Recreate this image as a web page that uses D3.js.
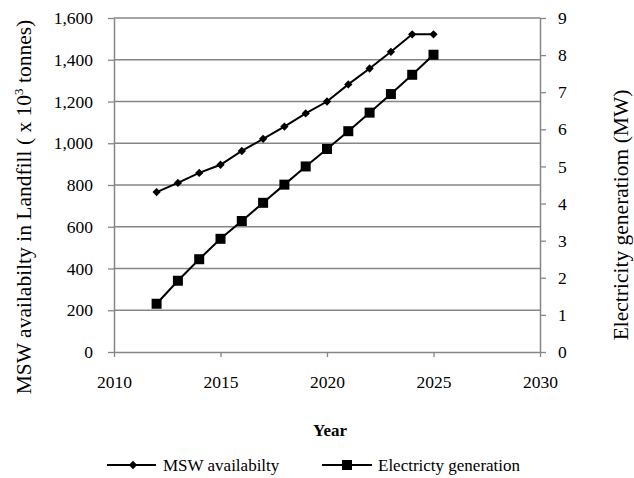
<!DOCTYPE html>
<html>
<head>
<meta charset="utf-8">
<script src="https://cdn.jsdelivr.net/npm/d3@7/dist/d3.min.js"></script>
<style>
  html, body { margin: 0; padding: 0; background: #fff; }
  svg { display: block; font-family: "Liberation Serif", "Times New Roman", serif; }
</style>
</head>
<body>
<svg id="chart" width="634" height="478"></svg>
<script>
// Years of the projection
const years = [2012, 2013, 2014, 2015, 2016, 2017, 2018, 2019, 2020, 2021, 2022, 2023, 2024, 2025];
// MSW availability in landfill (x 10^3 tonnes)
const mswValues = [766, 810, 858, 897, 963, 1021, 1080, 1143, 1200, 1282, 1358, 1438, 1522, 1522];
// Electricity generation (MW)
const elecValues = [1.30, 1.92, 2.50, 3.05, 3.53, 4.02, 4.51, 5.00, 5.47, 5.95, 6.45, 6.95, 7.47, 8.01];

const xTicks = [2010, 2015, 2020, 2025, 2030];
const leftTicks = [0, 200, 400, 600, 800, 1000, 1200, 1400, 1600];
const rightTicks = [0, 1, 2, 3, 4, 5, 6, 7, 8, 9];

const svg = d3.select("#chart");
const m = { left: 114, right: 540, top: 18, bottom: 352 };
const grey = "#868686";
const serif = "'Liberation Serif', 'Times New Roman', serif";

const x = d3.scaleLinear().domain([2010, 2030]).range([m.left, m.right]);
const yL = d3.scaleLinear().domain([0, 1600]).range([m.bottom, m.top]);
const yR = d3.scaleLinear().domain([0, 9]).range([m.bottom, m.top]);

// horizontal gridlines on the left-axis ticks
svg.append("g").selectAll("line").data(leftTicks.slice(1)).join("line")
  .attr("x1", m.left).attr("x2", m.right)
  .attr("y1", d => yL(d)).attr("y2", d => yL(d))
  .attr("stroke", grey).attr("stroke-width", 1.4);

function styleAxis(g) {
  g.attr("font-family", serif);
  g.select(".domain").attr("stroke", grey).attr("stroke-width", 1.5);
  g.selectAll(".tick line").attr("stroke", grey).attr("stroke-width", 1.3);
  g.selectAll(".tick text").attr("fill", "#000").style("font-size", "17.5px");
}

// left axis
svg.append("g").attr("transform", `translate(${m.left},0)`)
  .call(d3.axisLeft(yL).tickValues(leftTicks).tickFormat(d3.format(",")).tickSize(6).tickSizeOuter(0).tickPadding(15))
  .call(styleAxis);

// right axis
svg.append("g").attr("transform", `translate(${m.right},0)`)
  .call(d3.axisRight(yR).tickValues(rightTicks).tickFormat(d3.format("d")).tickSize(6).tickSizeOuter(0).tickPadding(12))
  .call(styleAxis);

// bottom axis
svg.append("g").attr("transform", `translate(0,${m.bottom})`)
  .call(d3.axisBottom(x).tickValues(xTicks).tickFormat(d3.format("d")).tickSize(5).tickSizeOuter(0).tickPadding(19))
  .call(styleAxis);

// series lines
const lineL = d3.line().x((d, i) => x(years[i])).y(d => yL(d));
const lineR = d3.line().x((d, i) => x(years[i])).y(d => yR(d));

svg.append("path").attr("d", lineL(mswValues))
  .attr("fill", "none").attr("stroke", "#000").attr("stroke-width", 2);
svg.append("path").attr("d", lineR(elecValues))
  .attr("fill", "none").attr("stroke", "#000").attr("stroke-width", 2);

// diamond markers for MSW
const diamond = d3.symbol().type(d3.symbolDiamond2).size(44);
svg.append("g").selectAll("path").data(mswValues).join("path")
  .attr("d", diamond)
  .attr("transform", (d, i) => `translate(${x(years[i])},${yL(d)})`)
  .attr("fill", "#000");

// square markers for electricity
const sq = 10;
svg.append("g").selectAll("rect").data(elecValues).join("rect")
  .attr("x", (d, i) => x(years[i]) - sq / 2).attr("y", d => yR(d) - sq / 2)
  .attr("width", sq).attr("height", sq).attr("fill", "#000");

// axis titles
svg.append("text")
  .attr("transform", "translate(31,207) rotate(-90)")
  .attr("text-anchor", "middle").style("font-size", "21.5px")
  .call(t => {
    t.append("tspan").text("MSW availabilty in Landfill (  x 10");
    t.append("tspan").attr("dy", -8).style("font-size", "13px").text("3");
    t.append("tspan").attr("dy", 8).text(" tonnes)");
  });

svg.append("text")
  .attr("transform", "translate(628,215) rotate(-90)")
  .attr("text-anchor", "middle").style("font-size", "21.5px")
  .text("Electricity generatiom (MW)");

svg.append("text")
  .attr("x", 330).attr("y", 436)
  .attr("text-anchor", "middle").style("font-size", "17px").style("font-weight", "bold")
  .text("Year");

// legend
const lg = svg.append("g").style("font-size", "17px");
lg.append("line").attr("x1", 107).attr("x2", 156).attr("y1", 465).attr("y2", 465)
  .attr("stroke", "#000").attr("stroke-width", 2);
lg.append("path").attr("d", diamond).attr("transform", "translate(133,465)").attr("fill", "#000");
lg.append("text").attr("x", 163).attr("y", 471).text("MSW availabilty");

lg.append("line").attr("x1", 322).attr("x2", 372).attr("y1", 465).attr("y2", 465)
  .attr("stroke", "#000").attr("stroke-width", 2);
lg.append("rect").attr("x", 347 - sq / 2).attr("y", 465 - sq / 2).attr("width", sq).attr("height", sq).attr("fill", "#000");
lg.append("text").attr("x", 378).attr("y", 471).text("Electricty generation");
</script>
</body>
</html>
